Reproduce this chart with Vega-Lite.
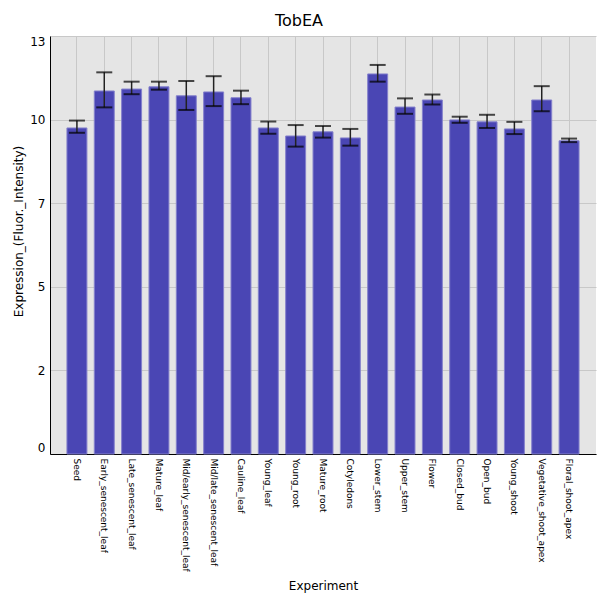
{
  "$schema": "https://vega.github.io/schema/vega-lite/v6.json",
  "autosize": "none",
  "width": 546,
  "height": 418,
  "padding": {"left": 50, "top": 36, "right": 4, "bottom": 146},
  "background": "white",
  "title": {
    "text": "TobEA",
    "font": "DejaVu Sans",
    "fontSize": 16,
    "fontWeight": "normal",
    "color": "black",
    "offset": 6,
    "dx": -24
  },
  "data": {
    "values": [
      {"experiment": "Seed", "value": 10.14, "lower": 9.99, "upper": 10.37},
      {"experiment": "Early_senescent_leaf", "value": 11.29, "lower": 10.78, "upper": 11.87},
      {"experiment": "Late_senescent_leaf", "value": 11.35, "lower": 11.19, "upper": 11.58},
      {"experiment": "Mature_leaf", "value": 11.42, "lower": 11.33, "upper": 11.58},
      {"experiment": "Mid/early_senescent_leaf", "value": 11.14, "lower": 10.7, "upper": 11.6},
      {"experiment": "Mid/late_senescent_leaf", "value": 11.26, "lower": 10.82, "upper": 11.75},
      {"experiment": "Cauline_leaf", "value": 11.08, "lower": 10.88, "upper": 11.3},
      {"experiment": "Young_leaf", "value": 10.14, "lower": 9.96, "upper": 10.34},
      {"experiment": "Young_root", "value": 9.89, "lower": 9.56, "upper": 10.23},
      {"experiment": "Mature_root", "value": 10.02, "lower": 9.84, "upper": 10.2},
      {"experiment": "Cotyledons", "value": 9.83, "lower": 9.59, "upper": 10.11},
      {"experiment": "Lower_stem", "value": 11.82, "lower": 11.58, "upper": 12.1},
      {"experiment": "Upper_stem", "value": 10.79, "lower": 10.58, "upper": 11.06},
      {"experiment": "Flower", "value": 11.01, "lower": 10.87, "upper": 11.18},
      {"experiment": "Closed_bud", "value": 10.39, "lower": 10.3, "upper": 10.49},
      {"experiment": "Open_bud", "value": 10.33, "lower": 10.14, "upper": 10.55},
      {"experiment": "Young_shoot", "value": 10.11, "lower": 9.95, "upper": 10.33},
      {"experiment": "Vegetative_shoot_apex", "value": 11.01, "lower": 10.66, "upper": 11.44},
      {"experiment": "Floral_shoot_apex", "value": 9.74, "lower": 9.7, "upper": 9.81}
    ]
  },
  "encoding": {
    "x": {
      "field": "experiment",
      "type": "nominal",
      "sort": null,
      "title": "Experiment",
      "scale": {"paddingInner": 0.27, "paddingOuter": 0.62},
      "axis": {
        "ticks": false,
        "grid": true,
        "bandPosition": 0.5,
        "gridColor": "#c8c8c8",
        "domainColor": "black",
        "labelAngle": 90,
        "labelAlign": "left",
        "labelBaseline": "middle",
        "labelPadding": 4,
        "labelFontSize": 9,
        "labelColor": "black",
        "titleFontSize": 12,
        "titleFontWeight": "normal",
        "titleColor": "black",
        "titleY": 135,
        "titleBaseline": "alphabetic"
      }
    }
  },
  "layer": [
    {
      "mark": {"type": "bar", "color": "#4a46b4", "stroke": "#8481cc", "strokeWidth": 1},
      "encoding": {
        "y": {
          "field": "value",
          "type": "quantitative",
          "title": "Expression_(Fluor._Intensity)",
          "scale": {"domain": [0, 13], "nice": false},
          "axis": {
            "values": [0, 2.6, 5.2, 7.8, 10.4, 13],
            "labelExpr": "floor(datum.value)",
            "labelFlush": true,
            "ticks": false,
            "labelPadding": 5,
            "labelFontSize": 12,
            "labelColor": "black",
            "gridColor": "#c8c8c8",
            "domainColor": "black",
            "titleFontSize": 12,
            "titleFontWeight": "normal",
            "titleColor": "black",
            "titleX": -32,
            "titleY": 195,
            "titleBaseline": "middle"
          }
        }
      }
    },
    {
      "mark": {"type": "rule", "color": "#222222", "strokeWidth": 1.5},
      "encoding": {
        "y": {"field": "lower", "type": "quantitative"},
        "y2": {"field": "upper"}
      }
    },
    {
      "mark": {"type": "tick", "orient": "horizontal", "color": "black", "size": 16, "thickness": 2},
      "encoding": {
        "y": {"field": "lower", "type": "quantitative"}
      }
    },
    {
      "mark": {"type": "tick", "orient": "horizontal", "color": "black", "size": 16, "thickness": 2},
      "encoding": {
        "y": {"field": "upper", "type": "quantitative"}
      }
    }
  ],
  "config": {
    "font": "DejaVu Sans",
    "view": {"fill": "#e5e5e5", "stroke": null}
  }
}
